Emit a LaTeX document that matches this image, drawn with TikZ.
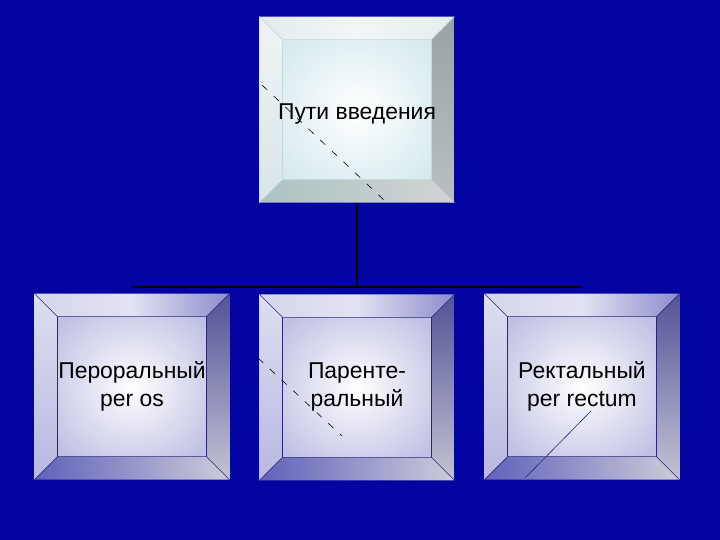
\documentclass[tikz,border=0pt]{standalone}
\usepackage{fontspec}
\setmainfont{Liberation Sans}
\usetikzlibrary{matrix,calc}

\definecolor{slide}{RGB}{4,4,160}
% top box, pale cyan
\definecolor{cy-face}{RGB}{214,234,238}
\definecolor{cy-top1}{RGB}{226,236,238}
\definecolor{cy-top2}{RGB}{242,246,246}
\definecolor{cy-top3}{RGB}{228,238,238}
\definecolor{cy-left1}{RGB}{238,244,246}
\definecolor{cy-left2}{RGB}{216,230,232}
\definecolor{cy-right1}{RGB}{152,162,164}
\definecolor{cy-right2}{RGB}{186,192,192}
\definecolor{cy-bot1}{RGB}{172,194,194}
\definecolor{cy-bot2}{RGB}{210,212,212}
\definecolor{cy-edge}{RGB}{200,215,220}
% route boxes, lavender blue
\definecolor{bl-face}{RGB}{192,192,228}
\definecolor{bl-top1}{RGB}{214,214,234}
\definecolor{bl-top2}{RGB}{226,226,242}
\definecolor{bl-top3}{RGB}{140,140,205}
\definecolor{bl-left1}{RGB}{222,222,240}
\definecolor{bl-left2}{RGB}{184,184,226}
\definecolor{bl-right1}{RGB}{82,82,152}
\definecolor{bl-right2}{RGB}{196,196,212}
\definecolor{bl-bot1}{RGB}{96,96,186}
\definecolor{bl-bot2}{RGB}{205,205,218}
\definecolor{bl-edge}{RGB}{40,40,120}

% two centred lines in one matrix cell
\newcommand\twoline[2]{\vbox{\halign{\hfil##\hfil\cr#1\cr#2\cr}}}
% outer and inner corners of a bevelled box
\def\bvA{(path picture bounding box.south west)}
\def\bvB{(path picture bounding box.south east)}
\def\bvC{(path picture bounding box.north east)}
\def\bvD{(path picture bounding box.north west)}
\def\bva{($(path picture bounding box.south west)+(23bp,23bp)$)}
\def\bvb{($(path picture bounding box.south east)+(-23bp,23bp)$)}
\def\bvc{($(path picture bounding box.north east)+(-23bp,-23bp)$)}
\def\bvd{($(path picture bounding box.north west)+(23bp,-23bp)$)}
\newcommand\bevelfaces{%
  \shade[inner color=white, outer color=\bvset-face] \bva rectangle \bvc;
  \shade[left color=\bvset-top1, right color=\bvset-top3, middle color=\bvset-top2]
    \bvD -- \bvC -- \bvc -- \bvd -- cycle;
  \shade[top color=\bvset-left1, bottom color=\bvset-left2]
    \bvA -- \bvD -- \bvd -- \bva -- cycle;
  \shade[top color=\bvset-right1, bottom color=\bvset-right2]
    \bvB -- \bvC -- \bvc -- \bvb -- cycle;
  \shade[left color=\bvset-bot1, right color=\bvset-bot2]
    \bvA -- \bvB -- \bvb -- \bva -- cycle;
  \draw[draw=\bvset-edge, line width=0.6bp] \bva rectangle \bvc
    \bvA -- \bva \bvB -- \bvb \bvC -- \bvc \bvD -- \bvd;
}

\tikzset{
  bevel/.style={minimum width=195bp, minimum height=186bp, inner sep=0pt,
    font=\fontsize{23}{28}\selectfont, path picture={\bevelfaces}},
  bluebox/.style={bevel, /utils/exec={\def\bvset{bl}}},
  cyanbox/.style={bevel, text height=20bp, text depth=0pt, /utils/exec={\def\bvset{cy}}},
  link/.style={draw=black, line width=2bp},
  stray/.style={line width=0.6bp}
}

\begin{document}
\begin{tikzpicture}[x=1bp, y=1bp]
\fill[slide] (0,0) rectangle (720,-540);
\useasboundingbox (0,0) rectangle (720,-540);
\matrix (m) [matrix of nodes, row sep=91bp, column sep=30bp, nodes={bluebox}] at (357,-248.5) {
	& |[cyanbox]| Пути введения & \\
	\twoline{Пероральный}{per os} & \twoline{Паренте-}{ральный} & \twoline{Ректальный}{per rectum} \\
};
\coordinate (hub) at ([yshift=7bp]m-2-2.north);
\draw[link] (m-1-2.south) -- (hub);
\draw[link] (m-2-1.north |- hub) -- (m-2-3.north |- hub);
\draw[stray, dash pattern=on 7bp off 9bp] (262,-85) -- (386,-202);
\draw[stray, dash pattern=on 7bp off 9bp] (258,-358) -- (342,-436);
\draw[stray, draw=bl-edge] (591,-411) -- (525,-478);
\end{tikzpicture}
\end{document}
